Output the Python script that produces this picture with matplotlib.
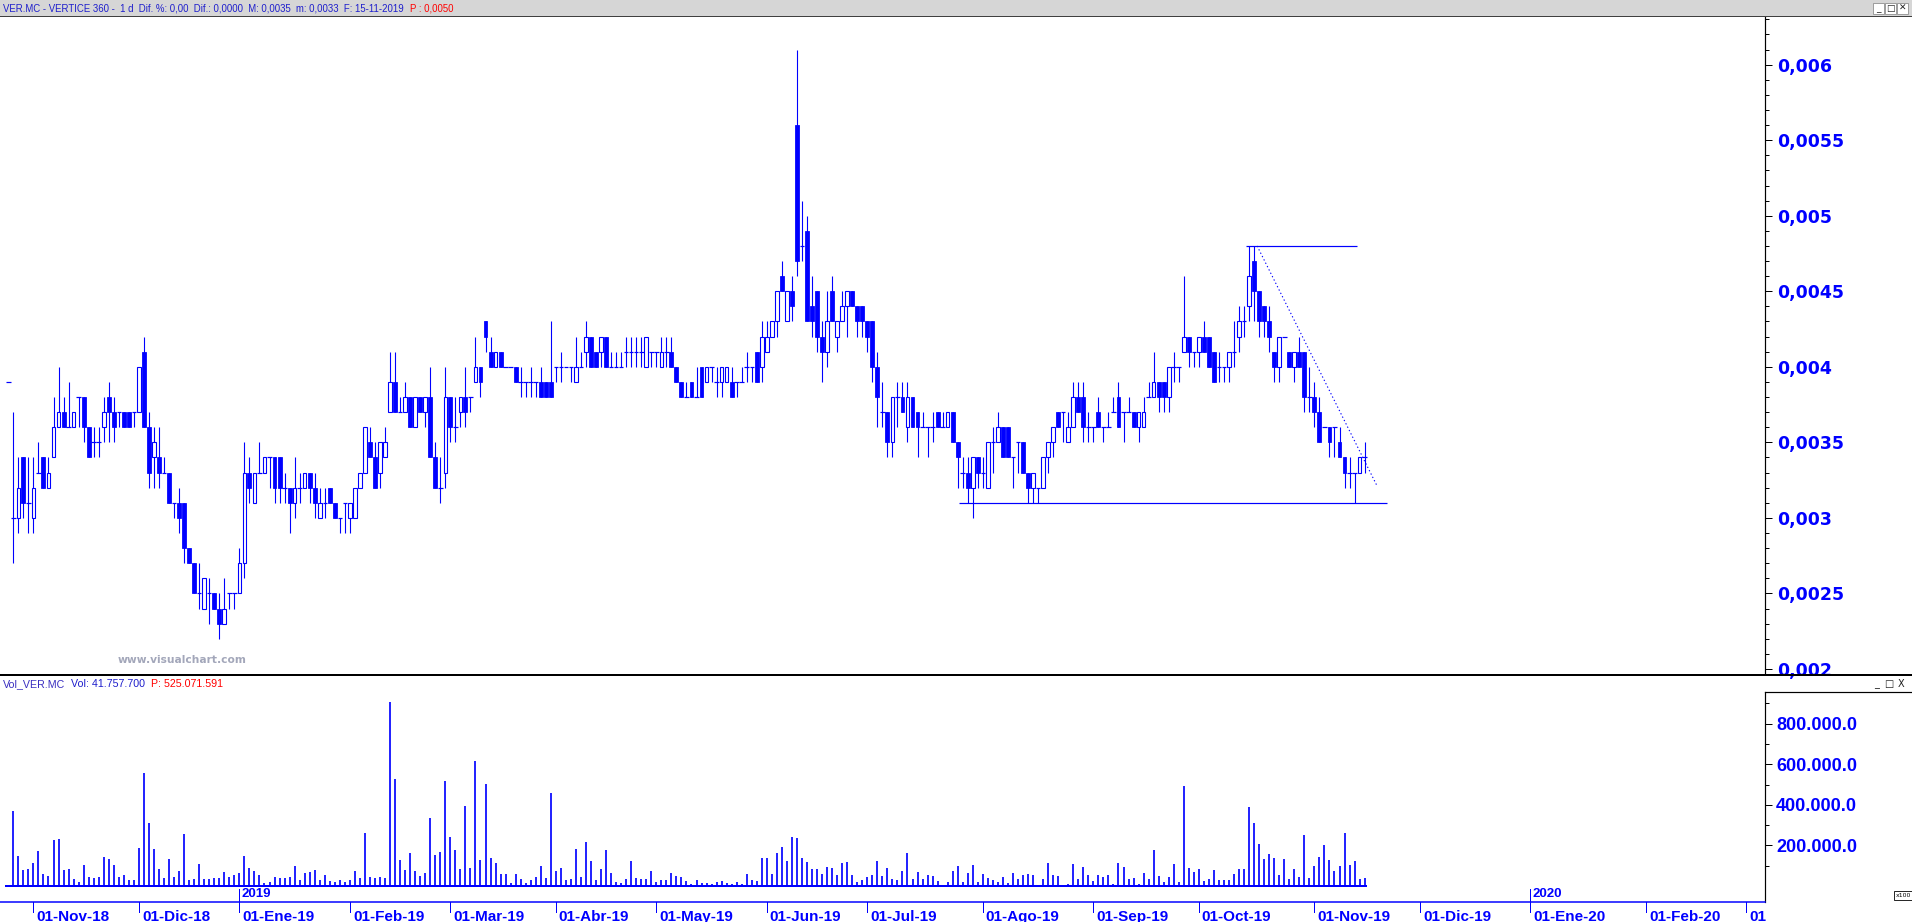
import numpy as np
import matplotlib
matplotlib.use("Agg")
import matplotlib.pyplot as plt
from matplotlib.patches import Rectangle
from matplotlib.lines import Line2D
from matplotlib.transforms import blended_transform_factory, offset_copy

W, H = 1912, 922
BLUE = "#0000FF"
HDR_BLUE = "#1E1ECC"
RED = "#FF0000"

# daily sessions 26-Oct-2018 .. 15-Nov-2019, prices in units of 0.0001 EUR
OPEN_T = [30, 30, 34, 31, 30, 33, 34, 32, 34, 36, 37, 36, 36, 38, 38, 36, 35, 35, 36, 38,
          37, 37, 37, 37, 37, 37, 41, 36, 34, 34, 33, 33, 31, 31, 31, 28, 27, 25, 24, 25,
          25, 24, 23, 25, 25, 25, 27, 33, 31, 33, 33, 34, 34, 34, 32, 32, 31, 32, 32, 33,
          32, 30, 31, 32, 31, 30, 31, 30, 30, 32, 33, 35, 34, 33, 34, 37, 39, 37, 37, 38,
          36, 38, 37, 38, 34, 32, 33, 38, 36, 37, 38, 38, 39, 40, 43, 41, 40, 41, 40, 40,
          40, 39, 39, 39, 39, 39, 39, 39, 40, 40, 40, 40, 39, 40, 41, 42, 41, 41, 42, 40,
          40, 40, 41, 41, 41, 41, 40, 41, 41, 40, 41, 41, 40, 39, 38, 39, 38, 40, 39, 40,
          39, 39, 39, 39, 39, 39, 40, 40, 41, 40, 41, 42, 43, 46, 43, 45, 56, 48, 49, 44,
          45, 42, 41, 45, 42, 43, 44, 45, 44, 44, 43, 43, 40, 37, 37, 35, 38, 38, 36, 38,
          37, 36, 36, 36, 37, 36, 36, 37, 35, 33, 33, 32, 34, 33, 32, 35, 35, 36, 36, 34,
          35, 35, 33, 32, 32, 32, 34, 35, 37, 37, 35, 36, 38, 38, 36, 36, 37, 36, 36, 37,
          38, 37, 37, 37, 36, 36, 38, 38, 39, 39, 38, 40, 40, 41, 42, 41, 41, 42, 42, 41,
          40, 40, 40, 41, 42, 43, 44, 47, 45, 44, 43, 41, 40, 42, 41, 40, 41, 41, 38, 38,
          37, 36, 36, 36, 35, 34, 33, 33, 33, 34]
HIGH_T = [37, 34, 34, 34, 34, 35, 34, 34, 38, 40, 38, 39, 37, 38, 38, 36, 36, 36, 38, 39,
          38, 37, 37, 37, 37, 40, 42, 37, 36, 36, 34, 33, 31, 32, 31, 28, 27, 27, 26, 26,
          25, 25, 26, 25, 25, 28, 35, 34, 33, 35, 34, 34, 34, 34, 33, 32, 34, 33, 33, 33,
          33, 32, 32, 32, 31, 30, 31, 31, 32, 33, 36, 36, 35, 35, 36, 41, 41, 38, 39, 38,
          38, 38, 38, 40, 35, 34, 40, 38, 38, 38, 40, 38, 42, 40, 43, 42, 41, 41, 40, 40,
          40, 40, 39, 40, 39, 40, 39, 43, 40, 41, 40, 40, 42, 41, 43, 42, 41, 42, 42, 41,
          41, 41, 42, 42, 42, 42, 42, 41, 41, 42, 42, 42, 40, 39, 39, 39, 40, 40, 40, 40,
          40, 40, 40, 40, 39, 40, 41, 40, 41, 43, 43, 43, 45, 47, 45, 46, 61, 51, 50, 46,
          45, 43, 45, 46, 43, 45, 45, 45, 44, 44, 43, 43, 41, 39, 37, 38, 39, 39, 39, 38,
          37, 37, 36, 37, 37, 37, 37, 37, 35, 34, 34, 34, 34, 34, 35, 36, 37, 36, 36, 34,
          35, 35, 33, 33, 32, 34, 35, 36, 37, 37, 37, 39, 39, 39, 37, 36, 38, 36, 37, 38,
          39, 37, 38, 37, 37, 38, 39, 41, 39, 39, 40, 41, 40, 46, 42, 41, 42, 43, 42, 41,
          41, 40, 41, 43, 44, 44, 48, 48, 45, 44, 44, 41, 42, 42, 41, 41, 42, 41, 40, 39,
          38, 36, 36, 36, 36, 34, 34, 33, 34, 35]
LOW_T = [27, 29, 30, 29, 29, 33, 32, 32, 34, 36, 36, 36, 36, 36, 35, 34, 34, 34, 35, 35,
         35, 36, 36, 36, 36, 37, 36, 32, 32, 32, 33, 31, 30, 29, 27, 27, 25, 24, 24, 23,
         24, 22, 23, 24, 24, 25, 26, 31, 31, 33, 33, 32, 31, 31, 31, 29, 30, 31, 32, 31,
         30, 30, 30, 31, 30, 29, 29, 29, 30, 32, 33, 34, 32, 32, 34, 37, 37, 37, 37, 36,
         36, 37, 36, 34, 32, 31, 32, 35, 35, 36, 36, 37, 39, 38, 41, 40, 40, 40, 40, 40,
         39, 38, 38, 38, 38, 38, 38, 38, 39, 39, 40, 39, 39, 40, 40, 40, 40, 40, 40, 40,
         40, 40, 40, 40, 40, 40, 40, 40, 40, 40, 40, 40, 39, 38, 38, 38, 38, 38, 39, 39,
         38, 38, 39, 38, 38, 39, 39, 39, 39, 39, 41, 42, 42, 45, 43, 43, 46, 47, 43, 42,
         41, 39, 40, 43, 41, 43, 42, 44, 42, 42, 41, 39, 36, 36, 34, 34, 36, 37, 35, 36,
         34, 36, 34, 35, 36, 36, 36, 35, 32, 32, 31, 30, 32, 32, 32, 33, 35, 34, 34, 32,
         33, 33, 31, 31, 31, 32, 33, 34, 36, 35, 35, 36, 37, 35, 35, 35, 36, 35, 36, 37,
         36, 35, 37, 36, 35, 36, 38, 38, 37, 37, 37, 39, 39, 41, 40, 40, 40, 41, 40, 39,
         39, 39, 39, 40, 41, 42, 43, 43, 42, 42, 41, 39, 39, 42, 40, 39, 40, 37, 37, 36,
         35, 36, 34, 34, 34, 32, 32, 31, 33, 33]
CLOSE_T = [30, 32, 31, 31, 32, 33, 32, 33, 36, 37, 36, 36, 37, 38, 36, 34, 35, 35, 37, 37,
           36, 37, 36, 36, 37, 40, 36, 33, 35, 33, 33, 31, 31, 30, 28, 27, 25, 25, 26, 25,
           24, 23, 24, 25, 25, 27, 33, 32, 33, 33, 34, 34, 32, 32, 32, 31, 32, 32, 33, 32,
           31, 31, 31, 31, 30, 30, 31, 31, 32, 33, 36, 34, 32, 35, 35, 39, 37, 37, 38, 36,
           38, 37, 38, 34, 32, 32, 38, 36, 36, 38, 37, 38, 40, 39, 42, 40, 41, 40, 40, 40,
           39, 39, 39, 39, 39, 38, 38, 38, 40, 40, 40, 40, 40, 40, 42, 40, 40, 42, 40, 40,
           40, 40, 41, 41, 41, 41, 42, 41, 41, 41, 41, 40, 39, 38, 38, 38, 38, 38, 40, 40,
           39, 40, 40, 38, 39, 39, 40, 40, 39, 42, 42, 43, 45, 45, 45, 44, 47, 48, 43, 43,
           42, 41, 43, 43, 43, 44, 45, 44, 43, 43, 42, 40, 38, 37, 35, 38, 38, 37, 38, 36,
           36, 36, 36, 36, 36, 36, 37, 35, 34, 33, 32, 34, 33, 33, 35, 35, 36, 34, 34, 34,
           35, 33, 32, 33, 32, 34, 35, 36, 36, 37, 36, 38, 37, 36, 36, 36, 36, 36, 36, 37,
           36, 37, 37, 36, 37, 37, 38, 39, 38, 38, 40, 40, 40, 42, 41, 41, 42, 41, 40, 39,
           40, 40, 41, 41, 43, 43, 46, 45, 43, 43, 42, 40, 42, 42, 40, 41, 40, 38, 38, 37,
           35, 36, 35, 36, 34, 33, 33, 33, 34, 34]
# volume in thousands of shares (axis units)
VOLUME_K = [369, 148, 79, 84, 113, 172, 59, 49, 227, 232, 79, 84, 34, 20, 103, 44, 39, 44, 143, 133,
            103, 44, 54, 30, 30, 187, 557, 310, 182, 84, 39, 133, 44, 74, 256, 30, 34, 108, 34, 34,
            39, 39, 69, 44, 54, 64, 148, 89, 74, 54, 15, 20, 44, 39, 39, 44, 99, 30, 64, 69,
            79, 30, 54, 25, 20, 30, 20, 30, 74, 39, 261, 44, 39, 44, 39, 906, 527, 128, 79, 163,
            74, 49, 64, 335, 153, 167, 517, 241, 177, 84, 394, 89, 616, 128, 502, 138, 113, 59, 59, 15,
            59, 34, 15, 30, 44, 99, 39, 458, 74, 89, 30, 34, 182, 44, 217, 123, 30, 84, 177, 64,
            20, 15, 34, 123, 39, 34, 34, 74, 20, 30, 30, 64, 49, 44, 25, 10, 30, 15, 13, 11,
            20, 25, 15, 11, 21, 10, 57, 28, 25, 138, 138, 59, 163, 192, 123, 241, 238, 138, 118, 84,
            84, 59, 94, 89, 54, 113, 118, 54, 20, 30, 44, 54, 123, 49, 89, 34, 30, 74, 163, 34,
            69, 34, 54, 49, 25, 5, 20, 74, 99, 20, 64, 103, 20, 59, 39, 30, 20, 44, 16, 64,
            34, 54, 59, 54, 3, 34, 113, 54, 49, 5, 10, 108, 34, 94, 54, 25, 54, 44, 54, 10,
            113, 94, 34, 39, 10, 64, 34, 177, 49, 20, 44, 108, 20, 493, 89, 69, 84, 25, 34, 79,
            30, 30, 30, 59, 84, 84, 389, 310, 207, 133, 158, 138, 54, 133, 34, 84, 44, 251, 39, 99,
            143, 202, 128, 74, 99, 261, 103, 123, 34, 41.8]

# month labels sit on the first session of each month (bar index)
DATE_TICK_BARS = [4, 25, 45, 67, 87, 108, 128, 150, 170, 193, 215, 236, 259, 280, 302, 325, 345]
DATE_TICK_LABELS = ["01-Nov-18", "01-Dic-18", "01-Ene-19", "01-Feb-19", "01-Mar-19", "01-Abr-19",
                    "01-May-19", "01-Jun-19", "01-Jul-19", "01-Ago-19", "01-Sep-19", "01-Oct-19",
                    "01-Nov-19", "01-Dic-19", "01-Ene-20", "01-Feb-20", "01"]
YEAR_BARS = [45, 302]
YEAR_LABELS = ["2019", "2020"]

PRICE_TICKS = [0.002, 0.0025, 0.003, 0.0035, 0.004, 0.0045, 0.005, 0.0055, 0.006]
PRICE_LABELS = ["0,002", "0,0025", "0,003", "0,0035", "0,004", "0,0045", "0,005", "0,0055", "0,006"]
VOL_TICKS = [200000, 400000, 600000, 800000]
VOL_LABELS = ["200.000.0", "400.000.0", "600.000.0", "800.000.0"]

# drawn studies: support, resistance and falling trendline (bar index, price)
SUPPORT_BARS, SUPPORT_PRICE = [188.2, 273.4], 0.0031
RESIST_BARS, RESIST_PRICE = [245.4, 267.5], 0.0048
TREND_BARS, TREND_PRICES = [247.6, 271.5], [0.0048, 0.00321]
PREV_MARK_BARS, PREV_MARK_PRICE = [-1.45, -0.5], 0.0039

o = np.array(OPEN_T) * 1e-4
h = np.array(HIGH_T) * 1e-4
l = np.array(LOW_T) * 1e-4
c = np.array(CLOSE_T) * 1e-4
vol = np.array(VOLUME_K) * 1000.0
x = np.arange(len(o))

fig = plt.figure(figsize=(W / 100, H / 100), dpi=100)
PX = 0.72  # one pixel in points
AXFONT = ["Liberation Sans", "DejaVu Sans"]


def fx(px):
    return px / W


def fy(py):
    return 1 - py / H


def hline_px(y, x0, x1, color="black", lw=1.0):
    fig.add_artist(Line2D([fx(x0), fx(x1)], [fy(y), fy(y)], color=color, lw=lw * PX,
                          transform=fig.transFigure))


# header band
fig.add_artist(Rectangle((0, fy(16)), 1, 16 / H, transform=fig.transFigure,
                         facecolor="#D6D6D6", edgecolor="none"))
hline_px(16.5, 0, W, "#404040")
hline_px(675, 0, W, "black", 2)

XLIM = (-2.65, 348.7)

# ---- price panel
ax = fig.add_axes([0, fy(674), fx(1765), (674 - 17) / H])
ax.set_xlim(*XLIM)
ax.set_ylim(0.001967, 0.0063152)
for s in ["top", "left", "bottom"]:
    ax.spines[s].set_visible(False)
ax.spines["right"].set_linewidth(1.2 * PX)

ax.vlines(x, l, h, color=BLUE, lw=1.1 * PX, zorder=2)
dn, up, fl = c < o, c > o, c == o
ax.bar(x[dn], (o - c)[dn], bottom=c[dn], width=0.78, color=BLUE, edgecolor=BLUE,
       lw=0.8 * PX, zorder=3)
ax.bar(x[up], (c - o)[up], bottom=o[up], width=0.72, facecolor="white", edgecolor=BLUE,
       lw=1.1 * PX, zorder=3)
ax.hlines(c[fl], x[fl] - 0.45, x[fl] + 0.45, color=BLUE, lw=1.2 * PX, zorder=3)

ax.hlines(SUPPORT_PRICE, *SUPPORT_BARS, color=BLUE, lw=1.2 * PX, zorder=4)
ax.hlines(RESIST_PRICE, *RESIST_BARS, color=BLUE, lw=1.2 * PX, zorder=4)
ax.plot(TREND_BARS, TREND_PRICES, color=BLUE, lw=1.1 * PX, ls=(0, (1.2, 2.2)), zorder=4)
ax.hlines(PREV_MARK_PRICE, *PREV_MARK_BARS, color=BLUE, lw=1.2 * PX, zorder=4, clip_on=False)

ax.set_xticks([])
ax.yaxis.set_ticks_position("right")
ax.set_yticks(PRICE_TICKS, PRICE_LABELS)
ax.set_yticks(np.arange(0.0020, 0.00635, 0.0001), minor=True)
ax.tick_params(axis="y", which="major", length=7 * PX, width=1 * PX, color="black",
               labelcolor=BLUE, labelsize=12.5, pad=5 * PX)
ax.tick_params(axis="y", which="minor", length=3.5 * PX, width=1 * PX, color="black")
for t in ax.get_yticklabels():
    t.set_fontweight("bold")

fig.text(fx(118), fy(660), "www.visualchart.com", ha="left", va="center",
         color="#A3A7BA", fontsize=7.7, fontweight="bold")

# ---- volume panel
axv = fig.add_axes([0, fy(902), fx(1765), (902 - 692) / H])
axv.set_xlim(*XLIM)
axv.set_ylim(-78800, 955700)
for s in ["top", "left"]:
    axv.spines[s].set_visible(False)
axv.spines["right"].set_linewidth(1.2 * PX)
axv.spines["bottom"].set_color(BLUE)
axv.spines["bottom"].set_linewidth(1.5 * PX)
axv.vlines(x, 0, vol, color=BLUE, lw=1.7 * PX)
axv.hlines(0, -1.75, len(x) - 0.6, color=BLUE, lw=2 * PX)
axv.set_xticks([])
axv.yaxis.set_ticks_position("right")
axv.set_yticks(VOL_TICKS, VOL_LABELS)
axv.set_yticks(np.arange(100000, 950000, 100000), minor=True)
axv.tick_params(axis="y", which="major", length=7 * PX, width=1 * PX, color="black",
                labelcolor=BLUE, labelsize=13, pad=4 * PX)
axv.tick_params(axis="y", which="minor", length=3.5 * PX, width=1 * PX, color="black")
for t in axv.get_yticklabels():
    t.set_fontweight("bold")
    t.set_fontfamily(AXFONT)
hline_px(692, 1765, W, "black", 1.2)

# date axis below the volume panel
tr = blended_transform_factory(axv.transData, axv.transAxes)
dy = 1 / 210
for b, lab in zip(DATE_TICK_BARS, DATE_TICK_LABELS):
    axv.plot([b, b], [0, -10 * dy], color=BLUE, lw=1 * PX, transform=tr, clip_on=False)
    axv.text(b, -15 * dy, lab, transform=offset_copy(tr, fig=fig, x=3, units="dots"),
             ha="left", va="center", color=BLUE, fontsize=11, fontweight="bold",
             family=AXFONT, clip_on=False)
for b, lab in zip(YEAR_BARS, YEAR_LABELS):
    axv.plot([b, b], [0, 13 * dy], color=BLUE, lw=1 * PX, transform=tr, clip_on=False)
    axv.text(b, 8.5 * dy, lab, transform=offset_copy(tr, fig=fig, x=2, units="dots"),
             ha="left", va="center", color=BLUE, fontsize=9.5, fontweight="bold",
             family=AXFONT)

# header texts
renderer = fig.canvas.get_renderer()


def text_run(x0, y0, parts, size):
    xx = x0
    for s, col, gap in parts:
        t = fig.text(fx(xx), fy(y0), s, color=col, fontsize=size, ha="left", va="center",
                     family=AXFONT)
        xx += t.get_window_extent(renderer=renderer).width + gap


text_run(3, 8.5, [("VER.MC - VERTICE 360 -  1 d  Dif. %: 0,00  Dif.: 0,0000  M: 0,0035  m: 0,0033  F: 15-11-2019",
                   HDR_BLUE, 6),
                  ("P : 0,0050", RED, 0)], 6.9)
text_run(3, 684, [("Vol_VER.MC", "#3A2FC0", 6), ("Vol: 41.757.700", HDR_BLUE, 6),
                  ("P: 525.071.591", RED, 0)], 7.7)

# window buttons
for i, g in enumerate(["_", "\u25a1", "\u2715"]):
    x0 = 1873 + i * 12
    fig.add_artist(Rectangle((fx(x0), fy(14)), 11 / W, 11 / H, transform=fig.transFigure,
                             facecolor="white", edgecolor="#909090", lw=0.6))
    fig.text(fx(x0 + 5.5), fy(8.5), g, ha="center", va="center", fontsize=6.5, color="#202020")
for i, g in enumerate(["_", "\u25a1", "X"]):
    fig.text(fx(1877 + i * 12), fy(684), g, ha="center", va="center", fontsize=7, color="#202020")
fig.add_artist(Rectangle((fx(1894), fy(900)), 18 / W, 9 / H, transform=fig.transFigure,
                         facecolor="white", edgecolor="black", lw=0.6))
fig.text(fx(1903), fy(895.5), "x100", ha="center", va="center", fontsize=4.5, color="black")

fig.savefig("out.png", dpi=100)
